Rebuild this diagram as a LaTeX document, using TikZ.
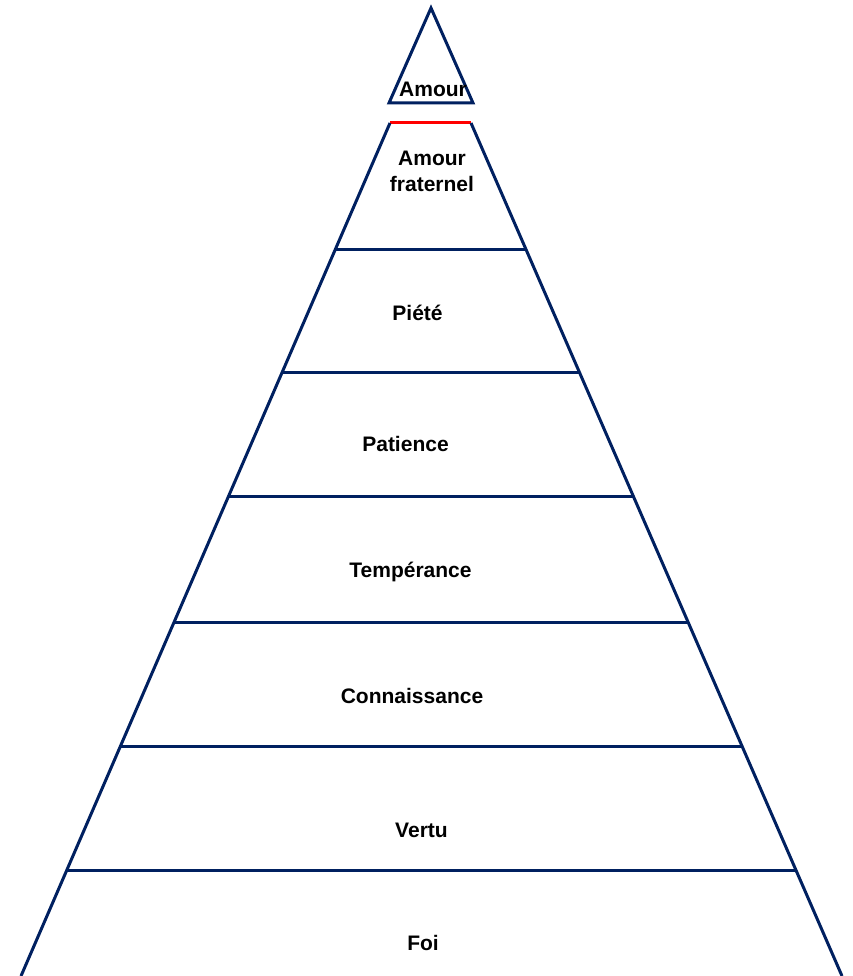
\documentclass[tikz,border=0pt]{standalone}
\usepackage{fontspec}
\setmainfont{Liberation Sans}
\usetikzlibrary{calc}
\definecolor{navy}{RGB}{0,32,96}

\begin{document}
\begin{tikzpicture}[x=1pt, y=-1pt,
    edge/.style={draw=navy, line width=3pt},
    lbl/.style={inner sep=0pt, anchor=base, font=\fontsize{21}{26}\selectfont\bfseries}]
    \useasboundingbox (0, 0) rectangle (852, 976);

    % Top triangle
    \draw[edge] (431, 8) -- (473, 103) -- (389, 103) -- cycle;
    \node[lbl] (amour) at (433, 97) {Amour};

    % Pyramid body
    \coordinate (tl) at (390, 123);
    \coordinate (tr) at (471, 123);
    \coordinate (bl) at (21, 976);
    \coordinate (br) at (842, 976);
    \draw[red, line width=3pt] (tl) -- (tr);
    \draw[edge] (tl) -- (bl);
    \draw[edge] (tr) -- (br);

    % Level lines
    \foreach \y in {250, 373, 497, 622, 746, 870}
        \draw[edge] ($(tl)!{(\y-123)/853}!(bl)$) -- ($(tr)!{(\y-123)/853}!(br)$);

    % Labels
    \node[lbl, anchor=center, align=center] (fraternel) at (432, 171.3) {Amour\\fraternel};
    \node[lbl] (piete) at (417.5, 320) {Piété};
    \node[lbl] (patience) at (405.5, 451) {Patience};
    \node[lbl] (temperance) at (410.5, 577.7) {Tempérance};
    \node[lbl] (connaissance) at (412, 703) {Connaissance};
    \node[lbl] (vertu) at (421.5, 837) {Vertu};
    \node[lbl] (foi) at (423, 950) {Foi};
\end{tikzpicture}
\end{document}
